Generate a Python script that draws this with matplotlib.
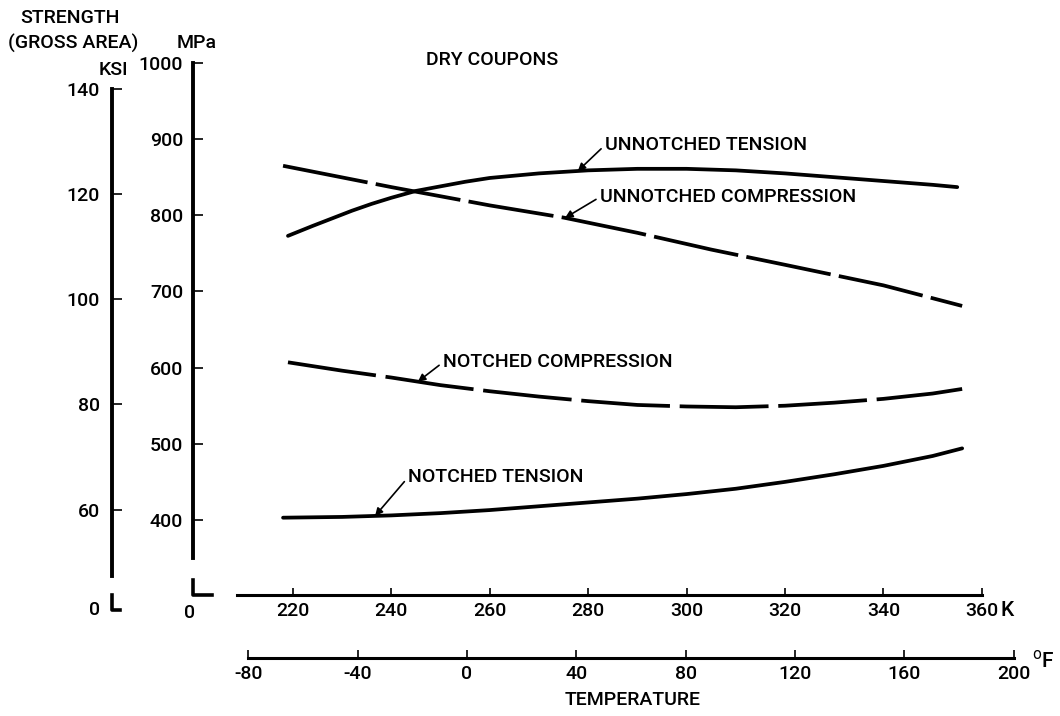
import matplotlib
matplotlib.use("Agg")
import matplotlib.pyplot as plt
import numpy as np

# values: temperature in K, strength in MPa
unt_k = [219, 224, 228, 232, 236, 240, 245, 250, 255, 260, 270, 280, 290, 300, 310, 320, 330, 340, 350, 355]
unt_mpa = [773, 786, 796, 806, 815, 823, 832, 838, 844, 849, 855, 859, 861, 861, 859, 855, 850, 845, 840, 837]

unc_k = [218, 240, 260, 275, 290, 305, 320, 340, 356]
unc_mpa = [865, 837, 813, 797, 777, 755, 735, 708, 681]

nc_k = [219, 230, 240, 250, 260, 270, 280, 290, 300, 310, 320, 330, 340, 350, 356]
nc_mpa = [607, 596, 587, 577, 569, 562, 556, 551, 549, 548, 550, 554, 559, 566, 572]

nt_k = [218, 230, 240, 250, 260, 270, 280, 290, 300, 310, 320, 330, 340, 350, 356]
nt_mpa = [403, 404, 406, 409, 413, 418, 423, 428, 434, 441, 450, 460, 471, 484, 494]

mpa_ticks = [400, 500, 600, 700, 800, 900, 1000]
ksi_ticks = [60, 80, 100, 120, 140]
k_ticks = [220, 240, 260, 280, 300, 320, 340, 360]
f_ticks = [-80, -40, 0, 40, 80, 120, 160, 200]

MPA_PER_KSI = 6.895


def k_to_f(k):
    return (np.asarray(k) - 273.15) * 1.8 + 32


def f_to_k(f):
    return (np.asarray(f) - 32) / 1.8 + 273.15


plt.rcParams["font.family"] = ["Roboto", "DejaVu Sans"]
plt.rcParams["font.weight"] = "medium"
plt.rcParams["lines.scale_dashes"] = False
plt.rcParams["axes.unicode_minus"] = False
FS = 14

W, H = 1060, 716


def fx(px):
    return px / W


def fy(py):
    return 1 - py / H


# axes placed so that 1 K = 4.921 px and 1 MPa = 0.7617 px
k_lim = (199.7, 368)
mpa_lim = (301.5, 1000)
ax_w = (k_lim[1] - k_lim[0]) * 4.921
ax_h = (mpa_lim[1] - mpa_lim[0]) * 0.7617

fig = plt.figure(figsize=(W / 100, H / 100), dpi=100)
rect = [fx(193), fy(595), ax_w / W, ax_h / H]
ax = fig.add_axes(rect)
ax.set_xlim(*k_lim)
ax.set_ylim(*mpa_lim)

for s in ("top", "right"):
    ax.spines[s].set_visible(False)
ax.spines["left"].set_linewidth(2.8)
ax.spines["left"].set_bounds(350, 1000)
ax.spines["bottom"].set_linewidth(2.2)
ax.spines["bottom"].set_bounds(208.6, 360)

ax.set_yticks(mpa_ticks)
ax.set_xticks(k_ticks)
ax.tick_params(axis="y", direction="in", length=7, width=1.2, pad=7, labelsize=FS)
ax.tick_params(axis="x", direction="in", length=5, width=1.2, pad=5, labelsize=FS)

# curves
ax.plot(unt_k, unt_mpa, color="black", lw=2.7, solid_capstyle="round")
ax.plot(unc_k, unc_mpa, color="black", lw=2.7, linestyle=(0, (62, 6)))
ax.plot(nc_k, nc_mpa, color="black", lw=2.7, linestyle=(0, (64, 7)))
ax.plot(nt_k, nt_mpa, color="black", lw=2.7, solid_capstyle="round")

arrow = dict(arrowstyle="-|>", color="black", lw=1.2, relpos=(0, 0.5),
             shrinkA=1, shrinkB=0, mutation_scale=11)
labels = [
    ("UNNOTCHED TENSION", unt_k, unt_mpa, 277.9, (283.4, 892)),
    ("UNNOTCHED COMPRESSION", unc_k, unc_mpa, 275.3, (282.4, 824)),
    ("NOTCHED COMPRESSION", nc_k, nc_mpa, 245.4, (250.5, 607)),
    ("NOTCHED TENSION", nt_k, nt_mpa, 236.7, (243.4, 456)),
]
for name, kk, vv, k_at, txt in labels:
    ax.annotate(name, xy=(k_at, np.interp(k_at, kk, vv)), xytext=txt,
                textcoords="data", ha="left", va="center", fontsize=FS,
                arrowprops=arrow)

# ksi scale (same height, converted)
ax_ksi = fig.add_axes(rect)
ax_ksi.set_ylim(mpa_lim[0] / MPA_PER_KSI, mpa_lim[1] / MPA_PER_KSI)
ax_ksi.patch.set_visible(False)
for s in ("top", "right", "bottom"):
    ax_ksi.spines[s].set_visible(False)
ax_ksi.spines["left"].set_position(("axes", (112 - 193) / ax_w))
ax_ksi.spines["left"].set_linewidth(2.8)
ax_ksi.spines["left"].set_bounds(47.4, 140)
ax_ksi.set_xticks([])
ax_ksi.set_yticks(ksi_ticks)
ax_ksi.tick_params(axis="y", direction="in", length=7, width=1.2, pad=8.5, labelsize=FS)

# fahrenheit scale below the kelvin one
sec = ax.secondary_xaxis((595 - 658) / ax_h, functions=(k_to_f, f_to_k))
sec.set_xticks(f_ticks)
sec.spines["bottom"].set_linewidth(2.2)
sec.spines["bottom"].set_bounds(-80, 200)
sec.tick_params(axis="x", direction="in", length=6, width=1.2, pad=5, labelsize=FS)

# broken-axis zero marks
ft = fig.transFigure
ax.plot([fx(193), fx(193), fx(212)], [fy(580), fy(595), fy(595)], transform=ft,
        color="black", lw=2.6, clip_on=False)
ax.plot([fx(112), fx(112), fx(120)], [fy(595), fy(610), fy(610)], transform=ft,
        color="black", lw=2.6, clip_on=False)
fig.text(fx(95), fy(610), "0", ha="center", va="center", fontsize=FS)
fig.text(fx(190), fy(613), "0", ha="center", va="center", fontsize=FS)

fig.text(fx(1001), fy(610), "K", ha="left", va="center", fontsize=FS + 1)
fig.text(fx(1032), fy(660), r"$^{\mathrm{o}}$F", ha="left", va="center", fontsize=FS + 1)
fig.text(fx(633), fy(700), "TEMPERATURE", ha="center", va="center", fontsize=FS)
fig.text(fx(492), fy(60), "DRY COUPONS", ha="center", va="center", fontsize=FS)

fig.text(fx(20), fy(18), "STRENGTH", ha="left", va="center", fontsize=FS)
fig.text(fx(8), fy(43), "(GROSS AREA)", ha="left", va="center", fontsize=FS)
fig.text(fx(197), fy(43), "MPa", ha="center", va="center", fontsize=FS)
fig.text(fx(113), fy(70), "KSI", ha="center", va="center", fontsize=FS)

fig.savefig("out.png", dpi=100)
